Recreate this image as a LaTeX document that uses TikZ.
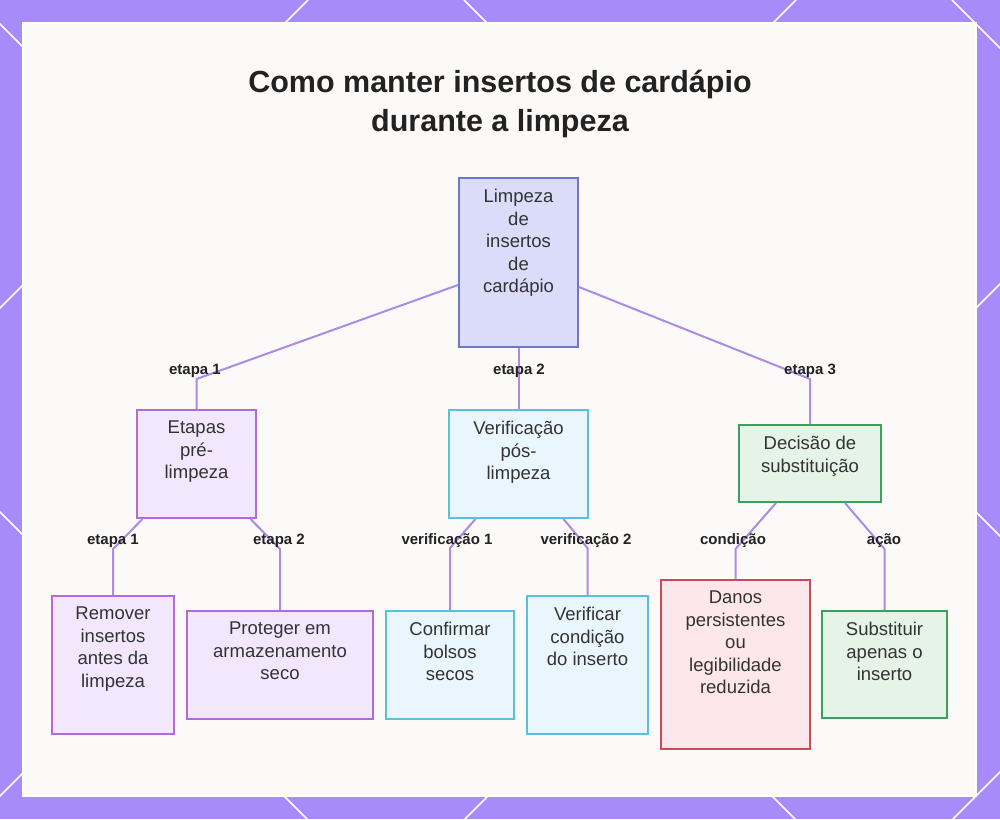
\documentclass[tikz,border=0pt]{standalone}
\usepackage{fontspec}
\setmainfont{Liberation Sans}
\usetikzlibrary{calc}
\definecolor{framec}{HTML}{A78BFA}
\definecolor{edgec}{HTML}{A98BE8}
\definecolor{panelc}{HTML}{FBFAF9}
\definecolor{txtc}{HTML}{333333}
\definecolor{titlec}{HTML}{222222}
\definecolor{rootfill}{HTML}{DADCFA}
\definecolor{rootdraw}{HTML}{6E78C8}
\definecolor{purfill}{HTML}{F2E7FD}
\definecolor{purdraw}{HTML}{B26ADD}
\definecolor{cyanfill}{HTML}{EAF6FD}
\definecolor{cyandraw}{HTML}{5BC0DE}
\definecolor{grnfill}{HTML}{E5F4E7}
\definecolor{grndraw}{HTML}{3DA05A}
\definecolor{redfill}{HTML}{FDE7EA}
\definecolor{reddraw}{HTML}{C94B5A}
\tikzset{
  box/.style={draw, line width=2pt, inner sep=0pt},
  rootbox/.style={box, fill=rootfill, draw=rootdraw},
  purbox/.style={box, fill=purfill, draw=purdraw},
  cyanbox/.style={box, fill=cyanfill, draw=cyandraw},
  grnbox/.style={box, fill=grnfill, draw=grndraw},
  redbox/.style={box, fill=redfill, draw=reddraw},
  txt/.style={anchor=north, inner sep=0pt, align=center, text=txtc, font=\fontsize{18.5}{22.5}\selectfont},
  lbl/.style={inner sep=0pt, text=titlec, font=\fontsize{15}{18}\selectfont\bfseries},
  edge/.style={draw=edgec, line width=2pt, line join=round},
  deco/.style={white, line width=1.5pt}
}
\begin{document}
\begin{tikzpicture}[x=1pt, y=-1pt]
\useasboundingbox (0,0) rectangle (1000,819);
% frame
\fill[framec] (0,0) rectangle (1000,819);
\begin{scope}
\clip (0,0) rectangle (1000,819);
\foreach \c in {308,796,1284,1772} \draw[deco] (\c,0) -- (\c-1000,1000);
\foreach \c in {-512,-24,464,952} \draw[deco] (\c,0) -- (\c+1000,1000);
\end{scope}
\fill[white] (22,22) rectangle (977,797);
\fill[panelc] (24,24) rectangle (975,795);

% title
\node[anchor=north, inner sep=0pt, align=center, text=titlec, font=\fontsize{30.5}{39}\selectfont\bfseries] (title) at (500,70) {Como manter insertos de cardápio\\durante a limpeza};

% boxes
\node[rootbox, minimum width=119pt, minimum height=169pt] (root) at (518.5,262.5) {};
\node[purbox, minimum width=119pt, minimum height=108pt] (pre) at (196.5,464) {};
\node[cyanbox, minimum width=139pt, minimum height=108pt] (pos) at (518.5,464) {};
\node[grnbox, minimum width=142pt, minimum height=77pt] (dec) at (810,463.5) {};
\node[purbox, minimum width=122pt, minimum height=138pt] (rem) at (113,665) {};
\node[purbox, minimum width=186pt, minimum height=108pt] (pro) at (280,665) {};
\node[cyanbox, minimum width=128pt, minimum height=108pt] (con) at (450,665) {};
\node[cyanbox, minimum width=121pt, minimum height=138pt] (ver) at (587.5,665) {};
\node[redbox, minimum width=149pt, minimum height=169pt] (dan) at (735.5,664.5) {};
\node[grnbox, minimum width=125pt, minimum height=107pt] (sub) at (884.5,664.5) {};

% texts
\node[txt] (rootT) at ([yshift=-12pt]root.north) {Limpeza\\de\\insertos\\de\\cardápio};
\node[txt] (preT) at ([yshift=-12pt]pre.north) {Etapas\\pré-\\limpeza};
\node[txt] (posT) at ([yshift=-12pt]pos.north) {Verificação\\pós-\\limpeza};
\node[txt] (decT) at ([yshift=-12pt]dec.north) {Decisão de\\substituição};
\node[txt] (remT) at ([yshift=-12pt]rem.north) {Remover\\insertos\\antes da\\limpeza};
\node[txt] (proT) at ([yshift=-12pt]pro.north) {Proteger em\\armazenamento\\seco};
\node[txt] (conT) at ([yshift=-12pt]con.north) {Confirmar\\bolsos\\secos};
\node[txt] (verT) at ([yshift=-12pt]ver.north) {Verificar\\condição\\do inserto};
\node[txt] (danT) at ([yshift=-12pt]dan.north) {Danos\\persistentes\\ou\\legibilidade\\reduzida};
\node[txt] (subT) at ([yshift=-12pt]sub.north) {Substituir\\apenas o\\inserto};

% bends
\coordinate (b1) at (196.5,379);
\coordinate (b3) at (810,379);
\coordinate (c1) at (113,549);
\coordinate (c2) at (280,549);
\coordinate (c3) at (450,548);
\coordinate (c4) at (587.5,548);
\coordinate (c5) at (735.5,549);
\coordinate (c6) at (884.5,549);

% edges
\draw[edge] ([yshift=-22.5pt]root.west) -- (b1) -- (b1 |- pre.north);
\draw[edge] (root.south) -- (pos.north);
\draw[edge] ([yshift=-24.5pt]root.east) -- (b3) -- (b3 |- dec.north);
\draw[edge] ([xshift=-54pt]pre.south) -- (c1) -- (c1 |- rem.north);
\draw[edge] ([xshift=54pt]pre.south) -- (c2) -- (c2 |- pro.north);
\draw[edge] ([xshift=-43pt]pos.south) -- (c3) -- (c3 |- con.north);
\draw[edge] ([xshift=45pt]pos.south) -- (c4) -- (c4 |- ver.north);
\draw[edge] ([xshift=-34pt]dec.south) -- (c5) -- (c5 |- dan.north);
\draw[edge] ([xshift=35pt]dec.south) -- (c6) -- (c6 |- sub.north);

% labels
\node[lbl] (l1) at (195,371) {etapa 1};
\node[lbl] (l2) at (519,371) {etapa 2};
\node[lbl] (l3) at (810,371) {etapa 3};
\node[lbl] (l4) at (113,541) {etapa 1};
\node[lbl] (l5) at (279,541) {etapa 2};
\node[lbl] (l6) at (447,541) {verificação 1};
\node[lbl] (l7) at (586,541) {verificação 2};
\node[lbl] (l8) at (733,541) {condição};
\node[lbl] (l9) at (884,541) {ação};
\end{tikzpicture}
\end{document}
